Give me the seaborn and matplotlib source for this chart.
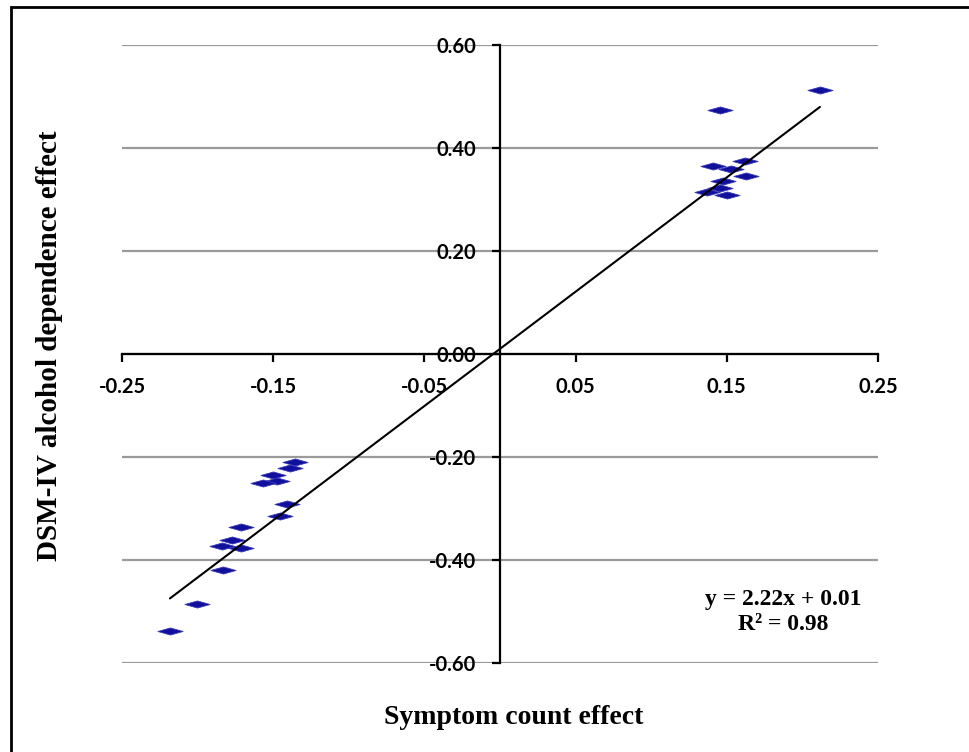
import numpy as np
import pandas as pd
import matplotlib
matplotlib.use("Agg")
import matplotlib.pyplot as plt
import matplotlib.path as mpath
from matplotlib.patches import Rectangle
import seaborn as sns

# ---- data ----
symptom_effect = [0.2116, 0.1455, 0.1410, 0.1620, 0.1530, 0.1627, 0.1477, 0.1455, 0.1367, 0.1500,
                  -0.1356, -0.1390, -0.1500, -0.1477, -0.1565, -0.1410, -0.1455, -0.1710,
                  -0.1775, -0.1840, -0.1710, -0.1830, -0.2006, -0.2183]
dsm_effect = [0.512, 0.473, 0.365, 0.374, 0.360, 0.346, 0.335, 0.322, 0.315, 0.308,
              -0.210, -0.221, -0.234, -0.247, -0.250, -0.292, -0.315, -0.335,
              -0.361, -0.373, -0.377, -0.419, -0.486, -0.537]
trend_slope = 2.22
trend_intercept = 0.01
r_squared = 0.98
x_ticks = [-0.25, -0.15, -0.05, 0.05, 0.15, 0.25]
y_ticks = [-0.60, -0.40, -0.20, 0.00, 0.20, 0.40, 0.60]
x_label = "Symptom count effect"
y_label = "DSM-IV alcohol dependence effect"

df = pd.DataFrame({"x": symptom_effect, "y": dsm_effect})
trend_x = [min(symptom_effect), max(symptom_effect)]
trend_df = pd.DataFrame({"x": trend_x,
                         "y": [trend_slope * v + trend_intercept for v in trend_x]})
equation_text = f"y = {trend_slope:.2f}x + {trend_intercept:.2f}\nR\u00b2 = {r_squared:.2f}"

sns.set_style("white")
plt.rcParams["font.family"] = ["Lato", "DejaVu Sans"]
plt.rcParams["text.color"] = "black"

W, H = 969, 752
fig = plt.figure(figsize=(W / 100, H / 100), dpi=100)
ax = fig.add_axes([122 / W, 1 - 663 / H, (878 - 122) / W, (663 - 45) / H])

# horizontal gridlines
ax.set_axisbelow(True)
ax.yaxis.grid(True, color="#9a9a9a", linewidth=1.6)
ax.xaxis.grid(False)

# flattened diamond marker
diamond = mpath.Path([(-1, 0), (0, 0.28), (1, 0), (0, -0.28), (-1, 0)],
                     [mpath.Path.MOVETO, mpath.Path.LINETO, mpath.Path.LINETO,
                      mpath.Path.LINETO, mpath.Path.CLOSEPOLY])

sns.scatterplot(data=df, x="x", y="y", marker=diamond, s=330, color="#10109c",
                edgecolor="#3a3ab8", linewidth=0.6, ax=ax, zorder=3, legend=False)
sns.lineplot(data=trend_df, x="x", y="y", color="black", linewidth=1.5,
             ax=ax, zorder=4, legend=False)

ax.set_xlim(-0.25, 0.25)
ax.set_ylim(-0.60, 0.60)
ax.set_xticks(x_ticks)
ax.set_yticks(y_ticks)
ax.set_xticklabels([f"{v:.2f}" for v in x_ticks])
ax.set_yticklabels([f"{v:.2f}" for v in y_ticks])
ax.set_xlabel("")
ax.set_ylabel("")

for s in ["top", "right"]:
    ax.spines[s].set_visible(False)
ax.spines["left"].set_position(("data", 0))
ax.spines["bottom"].set_position(("data", 0))
for s in ["left", "bottom"]:
    ax.spines[s].set_color("black")
    ax.spines[s].set_linewidth(1.6)
    ax.spines[s].set_zorder(2.5)

ax.tick_params(axis="x", bottom=True, direction="out", length=5.5, width=1.6,
               pad=11, labelsize=14.5, colors="black")
ax.tick_params(axis="y", left=True, direction="out", length=6, width=1.6,
               pad=11, labelsize=14.5, colors="black")
for lab in ax.get_xticklabels() + ax.get_yticklabels():
    lab.set_fontweight("bold")

serif = ["Liberation Serif", "DejaVu Serif"]
fig.text(783 / W, 1 - 612 / H, equation_text, ha="center", va="center",
         fontsize=17, fontweight="bold", family=serif, linespacing=1.3,
         color="black")
fig.text(514 / W, 1 - 718 / H, x_label, ha="center", va="center",
         fontsize=20, fontweight="bold", family=serif, color="black")
fig.text(50 / W, 1 - 346 / H, y_label, ha="center", va="center", rotation=90,
         fontsize=21, fontweight="bold", family=serif, color="black")

# outer frame
fig.patches.append(Rectangle((11 / W, -0.1), 1.2, 1 - 7 / H + 0.1,
                             transform=fig.transFigure, fill=False,
                             edgecolor="black", linewidth=2, zorder=10))

fig.savefig("out.png", dpi=100)
